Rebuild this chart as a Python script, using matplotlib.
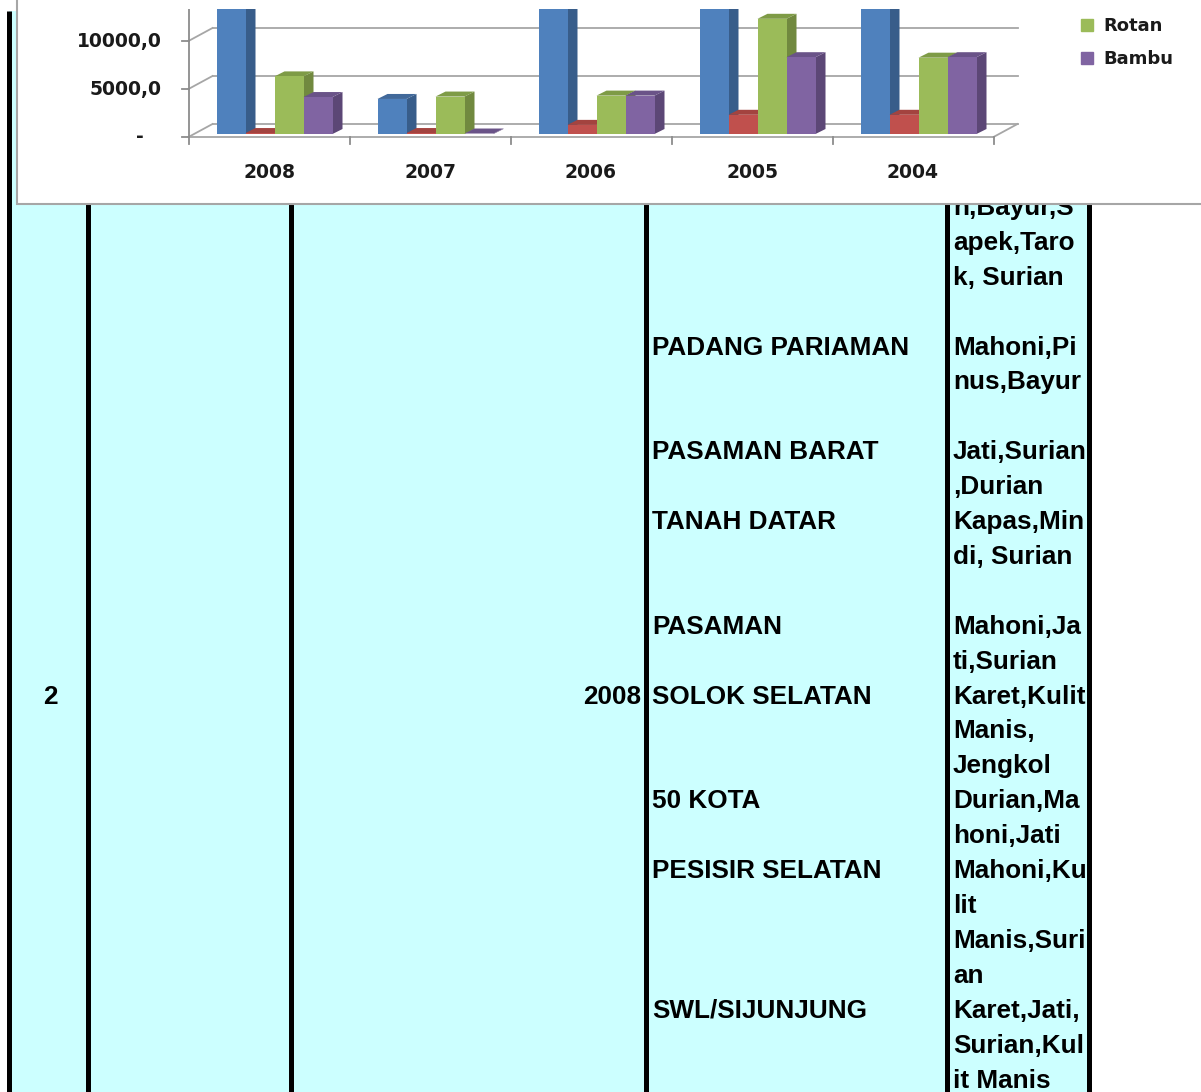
import numpy as np
import matplotlib.pyplot as plt
from matplotlib.patches import Rectangle, Polygon
from matplotlib.lines import Line2D

# ---- chart data (blue bars run off the top) ----
years = ["2008", "2007", "2006", "2005", "2004"]
series_names = ["Seri 1", "Seri 2", "Rotan", "Bambu"]   # first two are cut off above
seri1 = [16000, 3650, 16000, 16000, 16000]
seri2 = [100, 100, 950, 2000, 2000]
rotan = [6000, 3900, 4000, 12000, 7950]
bambu = [3850, 50, 4000, 8000, 8000]
ytick_vals = [0, 5000, 10000]
ytick_labels = ["-", "5000,0", "10000,0"]

# ---- table data ----
row_no = "2"
row_year = "2008"
kabupaten = ["", "PADANG PARIAMAN", "PASAMAN BARAT", "TANAH DATAR", "PASAMAN",
             "SOLOK SELATAN", "50 KOTA", "PESISIR SELATAN", "SWL/SIJUNJUNG"]
jenis = [["n,Bayur,S", "apek,Taro", "k, Surian"],
         ["Mahoni,Pi", "nus,Bayur"],
         ["Jati,Surian", ",Durian"],
         ["Kapas,Min", "di, Surian"],
         ["Mahoni,Ja", "ti,Surian"],
         ["Karet,Kulit", "Manis,", "Jengkol"],
         ["Durian,Ma", "honi,Jati"],
         ["Mahoni,Ku", "lit", "Manis,Suri", "an"],
         ["Karet,Jati,", "Surian,Kul", "it Manis"]]
row_slot = [0, 4, 7, 9, 12, 14, 17, 19, 23]

W, H = 1201, 1092
fig = plt.figure(figsize=(W / 100, H / 100), dpi=100)
fig.patch.set_facecolor("white")

# ---------------- table (pixel coordinates) ----------------
tab = fig.add_axes([0, 0, 1, 1])
tab.set_xlim(0, W)
tab.set_ylim(H, 0)
tab.axis("off")

col_edges = [8.5, 87.5, 291, 645.5, 946.5, 1088.5]
tab.add_patch(Rectangle((col_edges[0], 11), col_edges[-1] - col_edges[0], H,
                        facecolor="#CCFFFF", edgecolor="none", zorder=0))
for x in col_edges:
    tab.plot([x, x], [11, H], color="black", lw=3.6, solid_capstyle="butt", zorder=1)

tfont = dict(family=["Liberation Sans", "DejaVu Sans"], weight="bold", fontsize=18.8,
             color="black", va="baseline", zorder=2)
base0, pitch = 215, 34.9
for name, lines, slot in zip(kabupaten, jenis, row_slot):
    y = base0 + slot * pitch
    if name:
        tab.text(652, y, name, ha="left", **tfont)
    for k, ln in enumerate(lines):
        tab.text(953, y + k * pitch, ln, ha="left", **tfont)
y_solok = base0 + row_slot[kabupaten.index("SOLOK SELATAN")] * pitch
tab.text(50, y_solok, row_no, ha="center", **tfont)
tab.text(641, y_solok, row_year, ha="right", **tfont)

# chart box lying over the table
tab.add_patch(Rectangle((17, -10), W, 214, facecolor="white", edgecolor="#A6A6A6",
                        lw=1.5, zorder=5))

# ---------------- 3D-look column chart ----------------
px_cat = 161.0          # pixels per category
px_val = 48.0 / 5000    # pixels per value unit
x0_px, y0_px = 274.5, 134.0   # where category 0 / value 0 sit (bar plane)
box = (180, 9, 1030, 150)     # axes extent in pixels: left, top, right, bottom

ax = fig.add_axes([box[0] / W, 1 - box[3] / H, (box[2] - box[0]) / W, (box[3] - box[1]) / H])
ax.set_xlim((box[0] - x0_px) / px_cat, (box[2] - x0_px) / px_cat)
ax.set_ylim((y0_px - box[3]) / px_val, (y0_px - box[1]) / px_val)
ax.axis("off")
ax.patch.set_alpha(0)

def dx(p):
    return p / px_cat

def dy(p):
    return p / px_val

FX, FY = dx(-5.5), dy(-3)    # front plane offset
BX, BY = dx(18.5), dy(10)    # back wall offset
DX, DY = dx(10), dy(5)       # bar depth

grid_c = "#A6A6A6"
axis_c = "#8C8C8C"
lab_kw = dict(fontsize=13.5, fontweight="bold", color="#1A1A1A", annotation_clip=False,
              textcoords="offset pixels")
left, right = -0.5, len(years) - 0.5
for v in ytick_vals:
    ax.plot([left + BX, right + BX], [v + BY, v + BY], color=grid_c, lw=1.3, zorder=1)
    ax.plot([left + FX, left + BX], [v + FY, v + BY], color=grid_c, lw=1.3, zorder=1)
# floor front edge, right edge, left axis
ax.plot([left + FX, right + FX], [FY, FY], color=grid_c, lw=1.3, zorder=1)
ax.plot([right + FX, right + BX], [FY, BY], color=grid_c, lw=1.3, zorder=1)
ax.plot([left + FX, left + FX], [FY, ax.get_ylim()[1]], color=axis_c, lw=1.3, zorder=1)
for i in range(len(years) + 1):
    c = left + i + FX
    ax.plot([c, c], [FY, FY - dy(7)], color=axis_c, lw=1.3, zorder=1, clip_on=False)
for v, lab in zip(ytick_vals, ytick_labels):
    ax.plot([left + FX - dx(7), left + FX], [v + FY, v + FY], color=axis_c, lw=1.3,
            clip_on=False)
    ax.annotate(lab, (left + FX, v + FY), xytext=(-27 - (18 if lab == "-" else 0), 0),
                ha="right", va="center", **lab_kw)
for i, yr in enumerate(years):
    ax.annotate(yr, (i + FX, FY), xytext=(0, -35), ha="center", va="center", **lab_kw)

front = ["#4F81BD", "#C0504D", "#9BBB59", "#8064A2"]
side = ["#385D8A", "#8E3B38", "#71893F", "#5C4776"]
top = ["#41699A", "#A3433F", "#7E9B46", "#6A5388"]
bw = 29 / px_cat
start = -2 * bw
zo = 2
for i in range(len(years)):
    for j, vals in enumerate([seri1, seri2, rotan, bambu]):
        v = vals[i]
        l = i + start + j * bw
        ax.bar(l, v, bw, align="edge", color=front[j], zorder=zo + 2)
        ax.add_patch(Polygon([(l + bw, 0), (l + bw + DX, DY), (l + bw + DX, v + DY), (l + bw, v)],
                             closed=True, facecolor=side[j], edgecolor="none", zorder=zo))
        ax.add_patch(Polygon([(l, v), (l + DX, v + DY), (l + bw + DX, v + DY), (l + bw, v)],
                             closed=True, facecolor=top[j], edgecolor="none", zorder=zo + 1))
        zo += 3

handles = [Line2D([], [], marker="s", ls="none", markersize=8, color=front[2]),
           Line2D([], [], marker="s", ls="none", markersize=8, color=front[3])]
fig.legend(handles, series_names[2:], loc="upper left", bbox_to_anchor=(1069 / W, 1 - 8 / H),
           frameon=False, prop=dict(size=13, weight="bold"), handletextpad=0.4,
           labelspacing=0.85, borderpad=0, handlelength=1.0, labelcolor="#1A1A1A")

fig.savefig("out.png", dpi=100)
